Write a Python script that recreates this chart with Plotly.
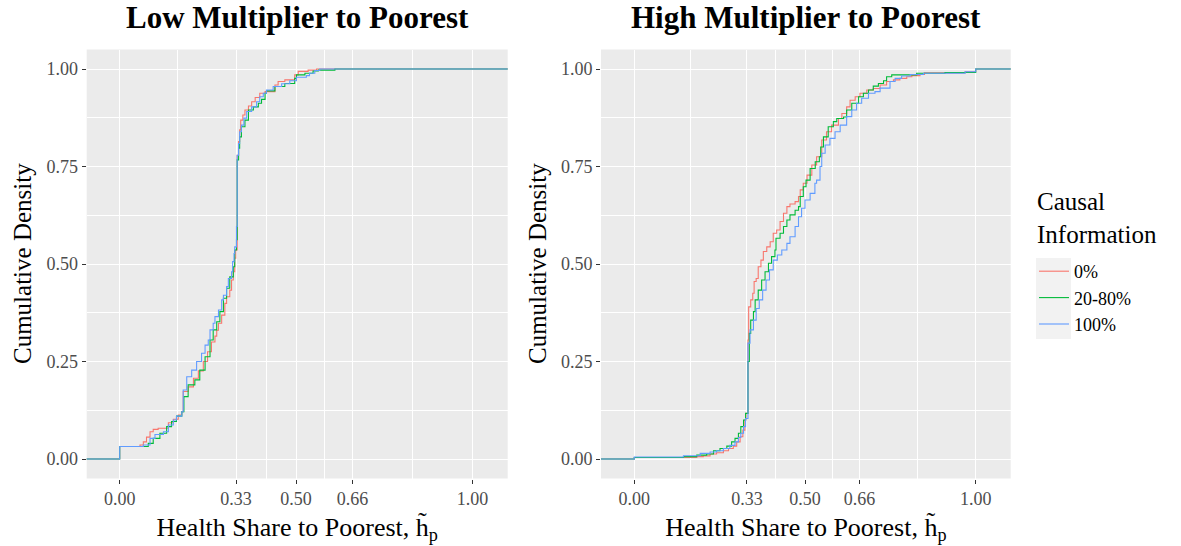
import plotly.graph_objects as go

# ---------------- data ----------------
series_names = ["0%", "20-80%", "100%"]
series_colors = ["#F8766D", "#00BA38", "#619CFF"]
legend_title = "Causal<br>Information"

x_tickvals = [0.0, 0.33, 0.5, 0.66, 1.0]
x_ticktext = ["0.00", "0.33", "0.50", "0.66", "1.00"]
x_minorvals = [0.165, 0.415, 0.58, 0.83]
y_tickvals = [0.0, 0.25, 0.5, 0.75, 1.0]
y_ticktext = ["0.00", "0.25", "0.50", "0.75", "1.00"]
y_minorvals = [0.125, 0.375, 0.625, 0.875]

panel_titles = ["Low Multiplier to Poorest", "High Multiplier to Poorest"]
x_title = "Health Share to Poorest, h\u0303<sub>p</sub>"
y_title = "Cumulative Density"

# Low multiplier panel: ECDF steps (share value, cumulative density)
low_0_x = [0.0, 0.0575, 0.067, 0.076, 0.086, 0.095, 0.109, 0.138, 0.152, 0.166, 0.176, 0.180,
           0.194, 0.209, 0.223, 0.237, 0.249, 0.260, 0.270, 0.275, 0.280, 0.289, 0.298, 0.303,
           0.312, 0.317, 0.322, 0.326, 0.329, 0.333, 0.337, 0.340, 0.343, 0.349, 0.355, 0.365,
           0.374, 0.384, 0.397, 0.412, 0.440, 0.449, 0.468, 0.496, 0.506, 0.534, 0.558]
low_0_y = [0.032, 0.036, 0.044, 0.056, 0.070, 0.076, 0.079, 0.093, 0.102, 0.113, 0.121, 0.173,
           0.185, 0.207, 0.226, 0.250, 0.275, 0.300, 0.315, 0.330, 0.348, 0.369, 0.399, 0.416,
           0.433, 0.459, 0.480, 0.515, 0.536, 0.779, 0.814, 0.844, 0.869, 0.882, 0.895, 0.905,
           0.916, 0.927, 0.938, 0.942, 0.959, 0.968, 0.972, 0.985, 0.994, 0.997, 1.0]

low_20_x = [0.0, 0.081, 0.095, 0.114, 0.133, 0.147, 0.161, 0.176, 0.182, 0.194, 0.213, 0.227,
            0.242, 0.256, 0.265, 0.275, 0.284, 0.294, 0.303, 0.312, 0.322, 0.326, 0.331, 0.333,
            0.337, 0.340, 0.345, 0.355, 0.365, 0.379, 0.393, 0.402, 0.412, 0.416, 0.440, 0.468,
            0.496, 0.501, 0.525, 0.548, 0.563, 0.610]
low_20_y = [0.032, 0.040, 0.053, 0.066, 0.083, 0.096, 0.110, 0.121, 0.160, 0.190, 0.203, 0.228,
            0.262, 0.305, 0.331, 0.352, 0.378, 0.412, 0.438, 0.467, 0.493, 0.536, 0.562, 0.767,
            0.797, 0.826, 0.852, 0.869, 0.895, 0.903, 0.912, 0.922, 0.938, 0.944, 0.955, 0.963,
            0.976, 0.985, 0.989, 0.995, 0.997, 1.0]

low_100_x = [0.0, 0.067, 0.086, 0.100, 0.124, 0.138, 0.152, 0.161, 0.176, 0.180, 0.190, 0.204,
             0.218, 0.232, 0.242, 0.251, 0.256, 0.265, 0.270, 0.280, 0.289, 0.294, 0.303, 0.308,
             0.317, 0.320, 0.324, 0.326, 0.331, 0.333, 0.337, 0.340, 0.345, 0.352, 0.360, 0.374,
             0.388, 0.397, 0.407, 0.416, 0.435, 0.459, 0.482, 0.501, 0.529, 0.538, 0.553, 0.567]
low_100_y = [0.032, 0.036, 0.053, 0.063, 0.070, 0.087, 0.100, 0.110, 0.121, 0.177, 0.211, 0.228,
             0.250, 0.271, 0.292, 0.305, 0.331, 0.348, 0.365, 0.382, 0.408, 0.420, 0.442, 0.463,
             0.480, 0.506, 0.527, 0.544, 0.596, 0.779, 0.809, 0.839, 0.856, 0.874, 0.891, 0.903,
             0.916, 0.929, 0.938, 0.946, 0.955, 0.962, 0.970, 0.979, 0.983, 0.989, 0.996, 1.0]

# High multiplier panel
high_0_x = [0.0, 0.183, 0.202, 0.222, 0.241, 0.261, 0.276, 0.290, 0.300, 0.310, 0.318, 0.324,
            0.327, 0.333, 0.335, 0.341, 0.347, 0.351, 0.357, 0.363, 0.371, 0.378, 0.388, 0.398,
            0.407, 0.417, 0.427, 0.437, 0.447, 0.456, 0.471, 0.481, 0.486, 0.495, 0.506, 0.520,
            0.534, 0.549, 0.563, 0.578, 0.598, 0.608, 0.622, 0.632, 0.647, 0.661, 0.681, 0.700,
            0.720, 0.739, 0.759, 0.778, 0.798, 0.813, 0.837, 0.850, 0.969, 1.0]
high_0_y = [0.004, 0.006, 0.008, 0.013, 0.016, 0.021, 0.027, 0.033, 0.044, 0.057, 0.074, 0.100,
            0.117, 0.305, 0.390, 0.408, 0.425, 0.455, 0.463, 0.493, 0.510, 0.532, 0.544, 0.557,
            0.579, 0.587, 0.609, 0.630, 0.647, 0.654, 0.660, 0.673, 0.690, 0.707, 0.728, 0.754,
            0.775, 0.818, 0.839, 0.856, 0.873, 0.886, 0.903, 0.920, 0.929, 0.938, 0.946, 0.950,
            0.959, 0.968, 0.972, 0.976, 0.980, 0.983, 0.986, 0.990, 0.993, 1.0]

high_20_x = [0.0, 0.144, 0.183, 0.212, 0.232, 0.251, 0.271, 0.285, 0.295, 0.305, 0.312, 0.320,
             0.326, 0.333, 0.337, 0.341, 0.349, 0.354, 0.363, 0.373, 0.383, 0.393, 0.402, 0.412,
             0.415, 0.427, 0.437, 0.447, 0.456, 0.471, 0.481, 0.486, 0.495, 0.503, 0.515, 0.530,
             0.542, 0.546, 0.554, 0.568, 0.583, 0.593, 0.613, 0.622, 0.637, 0.657, 0.671, 0.686,
             0.700, 0.715, 0.730, 0.739, 0.754, 0.827, 0.910, 1.0]
high_20_y = [0.004, 0.006, 0.010, 0.013, 0.021, 0.027, 0.033, 0.044, 0.053, 0.066, 0.083, 0.100,
             0.117, 0.250, 0.322, 0.356, 0.378, 0.408, 0.433, 0.459, 0.480, 0.502, 0.519, 0.536,
             0.566, 0.579, 0.596, 0.613, 0.626, 0.638, 0.647, 0.673, 0.698, 0.715, 0.745, 0.762,
             0.775, 0.800, 0.826, 0.852, 0.865, 0.873, 0.877, 0.895, 0.912, 0.929, 0.938, 0.946,
             0.956, 0.963, 0.970, 0.980, 0.985, 0.989, 0.991, 1.0]

high_100_x = [0.0, 0.144, 0.193, 0.222, 0.241, 0.261, 0.280, 0.295, 0.305, 0.312, 0.320, 0.326,
              0.333, 0.339, 0.349, 0.357, 0.366, 0.376, 0.386, 0.396, 0.407, 0.419, 0.432, 0.447,
              0.456, 0.471, 0.481, 0.490, 0.500, 0.515, 0.529, 0.534, 0.544, 0.549, 0.559, 0.573,
              0.588, 0.603, 0.622, 0.637, 0.651, 0.666, 0.686, 0.705, 0.720, 0.749, 0.764, 0.783,
              0.808, 0.847, 0.969, 1.0]
high_100_y = [0.005, 0.0085, 0.0145, 0.018, 0.021, 0.027, 0.035, 0.044, 0.055, 0.066, 0.083, 0.104,
              0.297, 0.331, 0.356, 0.386, 0.408, 0.433, 0.459, 0.485, 0.510, 0.523, 0.536, 0.553,
              0.570, 0.596, 0.621, 0.643, 0.664, 0.681, 0.707, 0.715, 0.750, 0.784, 0.805, 0.822,
              0.839, 0.856, 0.878, 0.895, 0.912, 0.925, 0.938, 0.942, 0.951, 0.968, 0.976, 0.982,
              0.986, 0.989, 0.993, 1.0]

low_series = [(low_0_x, low_0_y), (low_20_x, low_20_y), (low_100_x, low_100_y)]
high_series = [(high_0_x, high_0_y), (high_20_x, high_20_y), (high_100_x, high_100_y)]

# ---------------- figure ----------------
W, H = 1181, 546
FONT = "Liberation Serif"

fig = go.Figure()

x_ranges = [[-0.0935, 1.0997], [-0.0975, 1.1025]]
y_range = [-0.05, 1.05]

for p, (series, xax, yax) in enumerate([(low_series, "x", "y"), (high_series, "x2", "y2")]):
    lo, hi = x_ranges[p][0] - 1, x_ranges[p][1] + 1  # ECDF padding to -Inf / +Inf
    for i, (xs, ys) in enumerate(series):
        fig.add_trace(go.Scatter(
            x=[lo] + list(xs) + [hi], y=[0.0] + list(ys) + [ys[-1]],
            mode="lines", line=dict(color=series_colors[i], width=1.1, shape="hv"),
            name=series_names[i], legendgroup=series_names[i], showlegend=(p == 0),
            xaxis=xax, yaxis=yax, hoverinfo="x+y+name"))

def px_x(v):
    return v / W

def px_y(v):
    return 1 - v / H

y_dom = [px_y(478.5), px_y(49.5)]
x_doms = [[px_x(86.7), px_x(507.7)], [px_x(601.0), px_x(1010.7)]]
y_title_x = [px_x(22), px_x(537)]

axis_common = dict(
    showgrid=True, gridcolor="white", gridwidth=1.3, zeroline=False,
    ticks="outside", ticklen=4, tickwidth=1.1, tickcolor="#333333",
    tickfont=dict(family=FONT, size=18, color="#4D4D4D"),
    showline=False, fixedrange=True, automargin=False,
)
xtitle = dict(text=x_title, font=dict(family=FONT, size=26, color="black"), standoff=9)

for p in range(2):
    sfx = "" if p == 0 else "2"
    fig.update_layout(**{
        "xaxis" + sfx: dict(axis_common, domain=x_doms[p], range=x_ranges[p], anchor="y" + sfx,
                            tickmode="array", tickvals=x_tickvals, ticktext=x_ticktext,
                            minor=dict(tickvals=x_minorvals, showgrid=True, gridcolor="white",
                                       gridwidth=0.6, ticks=""),
                            title=xtitle),
        "yaxis" + sfx: dict(axis_common, domain=y_dom, range=y_range, anchor="x" + sfx,
                            tickmode="array", tickvals=y_tickvals, ticktext=y_ticktext,
                            minor=dict(tickvals=y_minorvals, showgrid=True, gridcolor="white",
                                       gridwidth=0.6, ticks="")),
    })

annotations = []
for p in range(2):
    annotations.append(dict(
        text="<b>%s</b>" % panel_titles[p], xref="paper", yref="paper",
        x=(x_doms[p][0] + x_doms[p][1]) / 2, y=px_y(17), xanchor="center", yanchor="middle",
        showarrow=False, font=dict(family=FONT, size=31, color="black")))
    annotations.append(dict(
        text=y_title, xref="paper", yref="paper", textangle=-90,
        x=y_title_x[p], y=(y_dom[0] + y_dom[1]) / 2, xanchor="center", yanchor="middle",
        showarrow=False, font=dict(family=FONT, size=25, color="black")))
# legend title (placed as text so its spacing can match the reference)
annotations.append(dict(
    text=legend_title, xref="paper", yref="paper", x=px_x(1035), y=px_y(186),
    xanchor="left", yanchor="top", align="left", showarrow=False,
    font=dict(family=FONT, size=25, color="black")))

shapes = [dict(type="rect", xref="paper", yref="paper",
               x0=px_x(1036), x1=px_x(1071), y0=px_y(339), y1=px_y(258),
               fillcolor="#F2F2F2", line=dict(width=0), layer="above")]

fig.update_layout(
    width=W, height=H, autosize=False,
    margin=dict(l=0, r=0, t=0, b=0, autoexpand=False),
    paper_bgcolor="white", plot_bgcolor="#EBEBEB",
    font=dict(family=FONT, color="black"),
    annotations=annotations, shapes=shapes,
    legend=dict(
        font=dict(family=FONT, size=18, color="black"),
        x=px_x(1034), y=px_y(253), xanchor="left", yanchor="top",
        bgcolor="rgba(0,0,0,0)", borderwidth=0, tracegroupgap=0,
    ),
    hovermode="closest",
)

fig.write_html("out.html", config={"displayModeBar": False},
               post_script="document.body.style.margin='0';document.body.style.padding='0';")
